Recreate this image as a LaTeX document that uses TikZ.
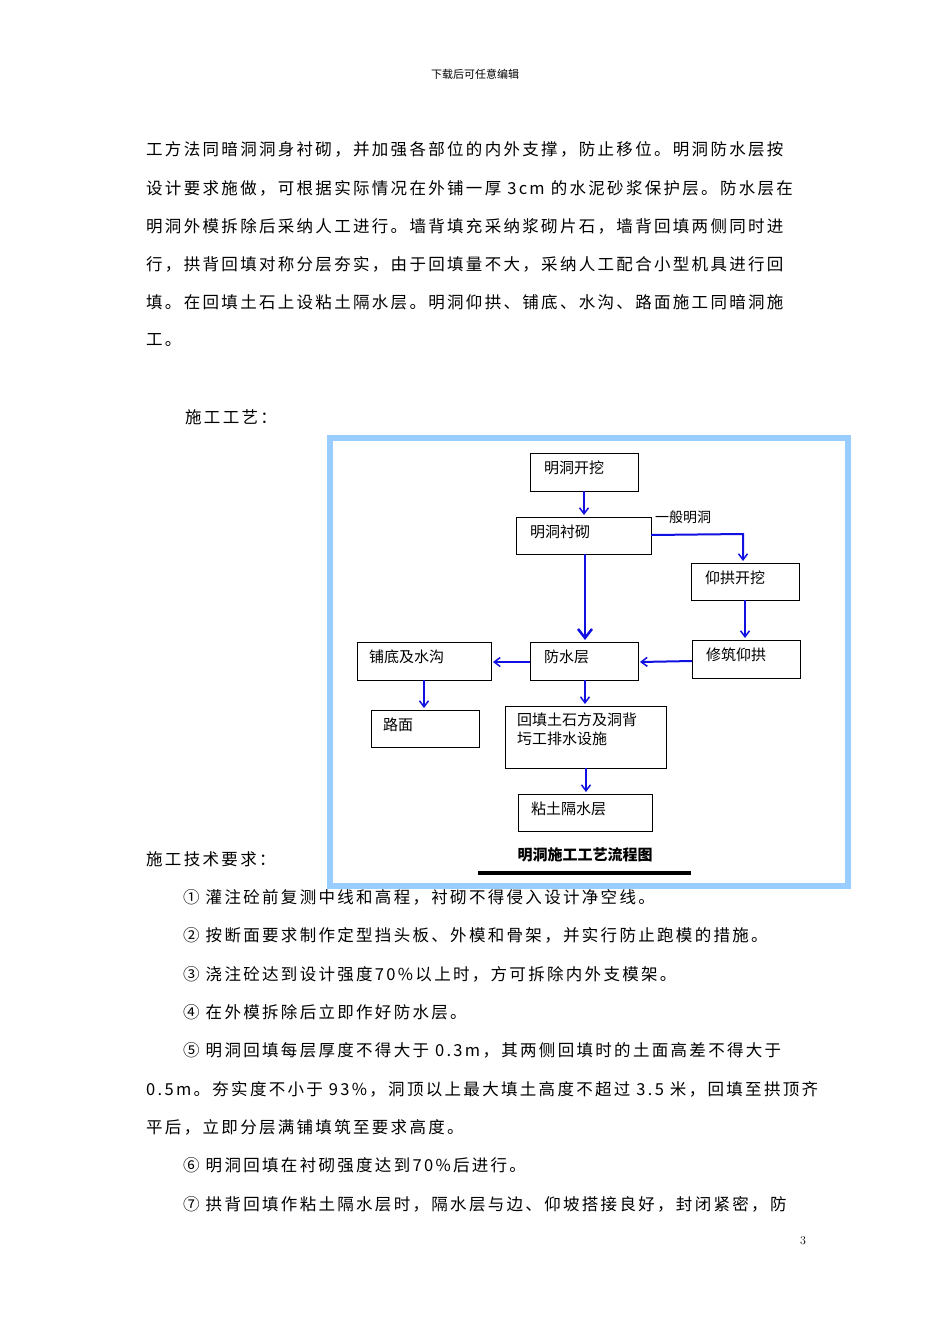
\documentclass[tikz,border=0pt]{standalone}
\usepackage{fontspec}
\newfontfamily\cjk[LetterSpace=14]{Noto Sans CJK SC}
\newfontfamily\cjkb{Noto Sans CJK SC}
\usetikzlibrary{arrows.meta}
\definecolor{frameblue}{HTML}{99CCFF}
\definecolor{arrblue}{HTML}{1010E0}
\begin{document}
\begin{tikzpicture}[x=1pt,y=-1pt,
  body/.style={anchor=west,inner sep=0,font=\cjk\fontsize{16.5}{16.5}\selectfont},
  box/.style={draw,line width=0.9pt},
  btxt/.style={anchor=north west,inner sep=0,align=left,font=\cjkb\fontsize{15}{19}\selectfont},
  arr/.style={draw=arrblue,line width=2pt,-{Straight Barb[length=6pt,width=9pt,line width=1.5pt]}}]
\fill[white] (0,0) rectangle (950,1344);
\useasboundingbox (0,0) rectangle (950,1344);
\node[inner sep=0,font=\cjkb\fontsize{11}{11}\selectfont] (hdr) at (475,74) {下载后可任意编辑};
\node[body] (l1) at (146,149) {工方法同暗洞洞身衬砌，并加强各部位的内外支撑，防止移位。明洞防水层按};
\node[body] (l2) at (146,188) {设计要求施做，可根据实际情况在外铺一厚 3cm 的水泥砂浆保护层。防水层在};
\node[body] (l3) at (146,226) {明洞外模拆除后采纳人工进行。墙背填充采纳浆砌片石，墙背回填两侧同时进};
\node[body] (l4) at (146,264) {行，拱背回填对称分层夯实，由于回填量不大，采纳人工配合小型机具进行回};
\node[body] (l5) at (146,302) {填。在回填土石上设粘土隔水层。明洞仰拱、铺底、水沟、路面施工同暗洞施};
\node[body] (l6) at (146,340) {工。};
\node[body] (l7) at (185,417) {施工工艺：};
\node[body] (l8) at (146,859) {施工技术要求：};
\node[body] (r1) at (183,897) {① 灌注砼前复测中线和高程，衬砌不得侵入设计净空线。};
\node[body] (r2) at (183,935) {② 按断面要求制作定型挡头板、外模和骨架，并实行防止跑模的措施。};
\node[body] (r3) at (183,974) {③ 浇注砼达到设计强度70\%以上时，方可拆除内外支模架。};
\node[body] (r4) at (183,1012) {④ 在外模拆除后立即作好防水层。};
\node[body] (r5) at (183,1050) {⑤ 明洞回填每层厚度不得大于 0.3m，其两侧回填时的土面高差不得大于};
\node[body] (r5b) at (146,1089) {0.5m。夯实度不小于 93\%，洞顶以上最大填土高度不超过 3.5 米，回填至拱顶齐};
\node[body] (r5c) at (146,1127) {平后，立即分层满铺填筑至要求高度。};
\node[body] (r6) at (183,1165) {⑥ 明洞回填在衬砌强度达到70\%后进行。};
\node[body] (r7) at (183,1204) {⑦ 拱背回填作粘土隔水层时，隔水层与边、仰坡搭接良好，封闭紧密，防};
\node[inner sep=0,font=\fontsize{12}{12}\selectfont] (pg) at (803,1241) {3};
% frame
\draw[frameblue,line width=6pt] (330,438) rectangle (848,886);
% boxes
\draw[box] (530,453) rectangle (638,491); \node[btxt] (a) at (544,461) {明洞开挖};
\draw[box] (516,517) rectangle (651,554); \node[btxt] (b) at (530,525) {明洞衬砌};
\draw[box] (691,563) rectangle (799,600); \node[btxt] (c) at (705,571) {仰拱开挖};
\draw[box] (692,640) rectangle (800,678); \node[btxt] (d) at (706,648) {修筑仰拱};
\draw[box] (530,642) rectangle (638,680); \node[btxt] (e) at (544,650) {防水层};
\draw[box] (357,642) rectangle (491,680); \node[btxt] (f) at (369,650) {铺底及水沟};
\draw[box] (371,710) rectangle (479,747); \node[btxt] (g) at (383,718) {路面};
\draw[box] (505,706) rectangle (666,768); \node[btxt] (h) at (517,713) {回填土石方及洞背\\圬工排水设施};
\draw[box] (518,794) rectangle (652,831); \node[btxt] (k) at (531,802) {粘土隔水层};
\node[inner sep=0,anchor=west,font=\cjkb\fontsize{14}{14}\selectfont] (lab) at (655,517) {一般明洞};
% arrows
\coordinate (p0) at (584,491); \coordinate (p1) at (584,515);
\draw[arr] (p0) -- (p1);
\coordinate (q0) at (651,535); \coordinate (q1) at (743,534); \coordinate (q2) at (743,561);
\draw[arr] (q0) -- (q1) -- (q2);
\coordinate (s0) at (585,554); \coordinate (s1) at (585,640);
\draw[draw=arrblue,line width=2.2pt,-{Straight Barb[length=9pt,width=14pt,line width=2.5pt]}] (s0) -- (s1);
\coordinate (t0) at (745,600); \coordinate (t1) at (745,638);
\draw[arr] (t0) -- (t1);
\coordinate (u0) at (692,661); \coordinate (u1) at (640,662);
\draw[arr] (u0) -- (u1);
\coordinate (v0) at (530,662); \coordinate (v1) at (493,662);
\draw[arr] (v0) -- (v1);
\coordinate (w0) at (424,680); \coordinate (w1) at (424,708);
\draw[arr] (w0) -- (w1);
\coordinate (x0) at (585,680); \coordinate (x1) at (585,704);
\draw[arr] (x0) -- (x1);
\coordinate (y0) at (586,768); \coordinate (y1) at (586,792);
\draw[arr] (y0) -- (y1);
\node[inner sep=0,font=\cjkb\bfseries\fontsize{15}{15}\selectfont] (title) at (585,855) {明洞施工工艺流程图};
\draw[line width=4pt] (478,873) -- (691,873);
\end{tikzpicture}
\end{document}
